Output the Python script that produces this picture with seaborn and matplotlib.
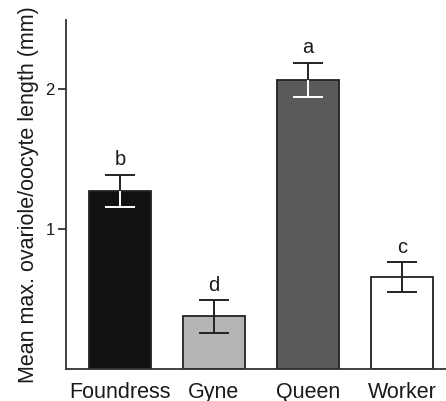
import matplotlib
matplotlib.use("Agg")
import matplotlib.pyplot as plt
import seaborn as sns
import pandas as pd
import numpy as np

castes = ["Foundress", "Gyne", "Queen", "Worker"]
means = [1.27, 0.375, 2.065, 0.655]
sems = [0.117, 0.115, 0.122, 0.108]
letters = ["b", "d", "a", "c"]
fill_colors = ["#111111", "#b5b5b5", "#5a5a5a", "#ffffff"]
inner_err_colors = ["#ffffff", "#222222", "#ffffff", "#222222"]
yticks = [1, 2]

sns.set_theme(style="white")
plt.rcParams["font.family"] = ["Liberation Sans", "DejaVu Sans"]

df = pd.DataFrame({"caste": castes, "mean": means})

fig = plt.figure(figsize=(4.46, 4.01), dpi=100)
ax = fig.add_axes([0.148, 0.0798, 0.852, 0.870])

sns.barplot(data=df, x="caste", y="mean", hue="caste", palette=fill_colors,
            order=castes, hue_order=castes, width=0.66, edgecolor="#222222",
            linewidth=1.3, legend=False, ax=ax, errorbar=None, saturation=1)

dark = "#222222"
capw = 0.16
for i, (m, s) in enumerate(zip(means, sems)):
    ax.vlines(i, m, m + s, color=dark, lw=1.4, zorder=5)
    ax.hlines(m + s, i - capw, i + capw, color=dark, lw=1.4, zorder=5)
    ax.vlines(i, m - s, m, color=inner_err_colors[i], lw=1.4, zorder=5)
    ax.hlines(m - s, i - capw, i + capw, color=inner_err_colors[i], lw=1.4, zorder=5)
    ax.annotate(letters[i], (i, m + s), xytext=(0, 4), textcoords="offset points",
                ha="center", va="bottom", fontsize=14.5, color="#1a1a1a")

ax.set_xlim(-0.574, 3.468)
ax.set_ylim(0, 2.49)
ax.set_yticks(yticks)
ax.set_yticklabels([str(t) for t in yticks])
ax.set_xlabel("")
ax.set_ylabel("Mean max. ovariole/oocyte length (mm)", fontsize=15.5, color="#1a1a1a", labelpad=5)

for sp in ["top", "right"]:
    ax.spines[sp].set_visible(False)
for sp in ["left", "bottom"]:
    ax.spines[sp].set_color("#333333")
    ax.spines[sp].set_linewidth(1.3)

ax.tick_params(axis="y", direction="out", length=6, width=1.3, color="#333333",
               labelsize=12, labelcolor="#1a1a1a", pad=2, left=True)
ax.tick_params(axis="x", length=0, labelsize=15.5, labelcolor="#1a1a1a", pad=9)
ax.grid(False)

fig.savefig("out.png", dpi=100)
